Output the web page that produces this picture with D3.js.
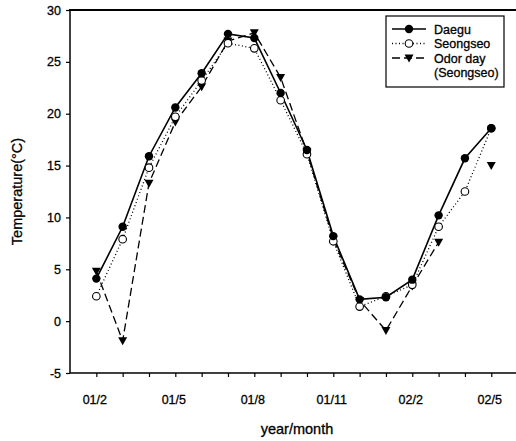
<!DOCTYPE html>
<html><head><meta charset="utf-8">
<script src="https://cdn.jsdelivr.net/npm/d3@7"></script>
<style>body{margin:0;background:#fff}text{font-family:"Liberation Sans",Arial,sans-serif;fill:#000}</style>
</head><body><svg id="c" width="516" height="441"></svg>
<script>
const months = ["01/2","01/3","01/4","01/5","01/6","01/7","01/8","01/9","01/10","01/11","01/12","02/1","02/2","02/3","02/4","02/5"];
const tickLabels = ["01/2","01/5","01/8","01/11","02/2","02/5"];
const yTicks = [-5,0,5,10,15,20,25,30];
const daegu    = [4.1, 9.1, 15.9, 20.6, 23.9, 27.7, 27.3, 22.0, 16.5, 8.2, 2.1, 2.3, 4.0, 10.2, 15.7, 18.6];
const seongseo = [2.4, 7.9, 14.8, 19.7, 23.2, 26.8, 26.3, 21.3, 16.1, 7.7, 1.4, 2.4, 3.5, 9.1, 12.5, 18.6];
const odorDay  = [4.8, -1.9, 13.3, 19.2, 22.6, 27.0, 27.8, 23.5, 16.3, 7.9, 2.0, -0.9, 3.4, 7.6, null, 15.0];

const svg = d3.select("#c");
const L=70, T=10, B=373, R=517.6;
const x = d3.scaleLinear().domain([0,17]).range([L,R]);
const y = d3.scaleLinear().domain([-5,30]).range([B,T]);

// axes
const yAxis = d3.axisLeft(y).tickValues(yTicks).tickSize(4).tickPadding(5).tickFormat(d=>String(d));
const gy = svg.append("g").attr("transform",`translate(${L},0)`).call(yAxis);
const xAxis = d3.axisBottom(x).tickValues(d3.range(1,17)).tickSize(4).tickPadding(18)
  .tickFormat(i => tickLabels.includes(months[i-1]) ? months[i-1] : "");
const gx = svg.append("g").attr("transform",`translate(0,${B})`).call(xAxis);
[gx,gy].forEach(g=>{
  g.select(".domain").remove();
  g.selectAll(".tick line").attr("stroke","#000").attr("stroke-width",1.2);
  g.selectAll(".tick text").attr("font-size",12.5).attr("font-family","Liberation Sans, Arial")
    .attr("fill","#000").attr("stroke","#000").attr("stroke-width",0.3);
});
gx.selectAll(".tick text").attr("dx",-2);
// spines
svg.append("line").attr("x1",L).attr("x2",L).attr("y1",T).attr("y2",B).attr("stroke","#000").attr("stroke-width",1.5);
svg.append("line").attr("x1",L).attr("x2",R).attr("y1",B).attr("y2",B).attr("stroke","#000").attr("stroke-width",1.5);
svg.append("line").attr("x1",L-1).attr("x2",R).attr("y1",T).attr("y2",T).attr("stroke","#000").attr("stroke-width",2);

// series
const series = [
  {name:"Daegu", data:daegu, dash:null, w:1.6, marker:"fc"},
  {name:"Seongseo", data:seongseo, dash:"1,2.5", w:1.3, marker:"oc"},
  {name:"Odor day", data:odorDay, dash:"8,4", w:1.3, marker:"tri"}
];
const line = d3.line().defined(d=>d.v!=null).x(d=>x(d.i)).y(d=>y(d.v));
function marker(g, m, cx, cy){
  if(m==="fc") g.append("circle").attr("cx",cx).attr("cy",cy).attr("r",4.2).attr("fill","#000");
  else if(m==="oc") g.append("circle").attr("cx",cx).attr("cy",cy).attr("r",3.8).attr("fill","#fff").attr("stroke","#000").attr("stroke-width",1.1);
  else g.append("path").attr("d",`M${cx-4.5},${cy-3.5}L${cx+4.5},${cy-3.5}L${cx},${cy+4.5}Z`).attr("fill","#000");
}
[2,1,0].forEach(k=>{
  const s=series[k];
  const pts=s.data.map((v,j)=>({i:j+1,v}));
  svg.append("path").datum(pts).attr("d",line).attr("fill","none").attr("stroke","#000")
    .attr("stroke-width",s.w).attr("stroke-dasharray",s.dash);
});
[2,1,0].forEach(k=>{
  const s=series[k]; const g=svg.append("g");
  s.data.forEach((v,j)=>{ if(v!=null) marker(g,s.marker,x(j+1),y(v)); });
});

// legend
const lg = svg.append("g");
lg.append("rect").attr("x",386).attr("y",16).attr("width",118).attr("height",71).attr("fill","#fff").attr("stroke","#000").attr("stroke-width",1.2);
const rows=[29,43.5,58];
series.forEach((s,k)=>{
  lg.append("line").attr("x1",392).attr("x2",426).attr("y1",rows[k]).attr("y2",rows[k]).attr("stroke","#000")
    .attr("stroke-width",s.w).attr("stroke-dasharray",s.dash);
  marker(lg,s.marker,409,rows[k]);
  lg.append("text").attr("x",434).attr("y",rows[k]+4.5).attr("font-size",12.5).attr("stroke","#000").attr("stroke-width",0.3).text(s.name);
});
lg.append("text").attr("x",434).attr("y",72+4.5).attr("font-size",12.5).attr("stroke","#000").attr("stroke-width",0.3).text("(Seongseo)");

// titles
svg.append("text").attr("transform",`translate(22,${(T+B)/2}) rotate(-90)`).attr("text-anchor","middle")
  .attr("font-size",14.5).attr("stroke","#000").attr("stroke-width",0.3).text("Temperature(°C)");
svg.append("text").attr("x",297).attr("y",434).attr("text-anchor","middle").attr("font-size",14.5)
  .attr("stroke","#000").attr("stroke-width",0.3).text("year/month");
</script></body></html>
